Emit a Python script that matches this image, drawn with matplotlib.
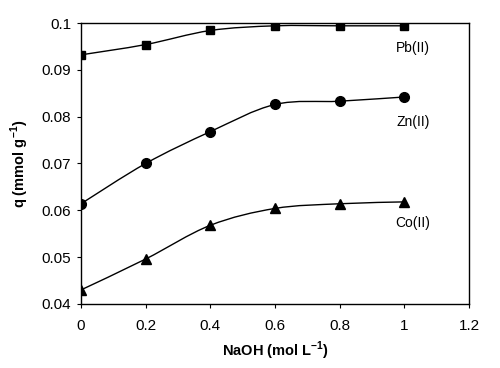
import numpy as np
import matplotlib.pyplot as plt
from matplotlib.path import Path
from matplotlib.patches import PathPatch

plt.rcParams['font.family'] = ['Liberation Sans', 'DejaVu Sans']
plt.rcParams['mathtext.fontset'] = 'custom'
plt.rcParams['mathtext.rm'] = 'Liberation Sans'
plt.rcParams['mathtext.bf'] = 'Liberation Sans:bold'

# data
naoh = [0, 0.2, 0.4, 0.6, 0.8, 1.0]
pb = [0.0932, 0.0954, 0.0984, 0.0994, 0.0994, 0.0994]
zn = [0.0614, 0.0700, 0.0768, 0.0826, 0.0833, 0.0842]
co = [0.0430, 0.0496, 0.0568, 0.0604, 0.0614, 0.0618]
names = ['Pb(II)', 'Zn(II)', 'Co(II)']
markers = ['s', 'o', '^']
msizes = [5.5, 7, 6.5]
label_y = [0.0947, 0.0789, 0.0572]


def smooth_path(x, y):
    # Excel-like smoothed line: cubic bezier through the points
    x = np.asarray(x, float)
    y = np.asarray(y, float)
    verts = [(x[0], y[0])]
    codes = [Path.MOVETO]
    n = len(x)
    for i in range(n - 1):
        i0 = max(i - 1, 0)
        i3 = min(i + 2, n - 1)
        c1 = (x[i] + (x[i + 1] - x[i0]) / 6, y[i] + (y[i + 1] - y[i0]) / 6)
        c2 = (x[i + 1] - (x[i3] - x[i]) / 6, y[i + 1] - (y[i3] - y[i]) / 6)
        verts += [c1, c2, (x[i + 1], y[i + 1])]
        codes += [Path.CURVE4] * 3
    return Path(verts, codes)


fig = plt.figure(figsize=(5, 3.68), dpi=100)
ax = fig.add_axes([0.162, 0.174, 0.776, 0.7635])

for ys, nm, mk, ms, ly in zip([pb, zn, co], names, markers, msizes, label_y):
    ax.add_patch(PathPatch(smooth_path(naoh, ys), fill=False, lw=1.0, color='black'))
    ax.plot(naoh, ys, ls='none', marker=mk, ms=ms, color='black')
    ax.text(1.027, ly, nm, ha='center', va='center', fontsize=10)

ax.set_xlim(0, 1.2)
ax.set_ylim(0.04, 0.1)
ax.set_xticks([0, 0.2, 0.4, 0.6, 0.8, 1, 1.2])
ax.set_xticklabels(['0', '0.2', '0.4', '0.6', '0.8', '1', '1.2'])
ax.set_yticks([0.04, 0.05, 0.06, 0.07, 0.08, 0.09, 0.1])
ax.set_yticklabels(['0.04', '0.05', '0.06', '0.07', '0.08', '0.09', '0.1'])
ax.tick_params(direction='out', length=3, width=0.8, labelsize=11, pad=4)
ax.tick_params(axis='x', pad=8)
for s in ax.spines.values():
    s.set_linewidth(1.0)

ax.set_xlabel('NaOH (mol L$^{\\mathbf{-1}}$)', fontsize=10.5, fontweight='bold', labelpad=5)
ax.set_ylabel('q (mmol g$^{\\mathbf{-1}}$)', fontsize=10.5, fontweight='bold', labelpad=8)

fig.savefig('out.png', dpi=100)
